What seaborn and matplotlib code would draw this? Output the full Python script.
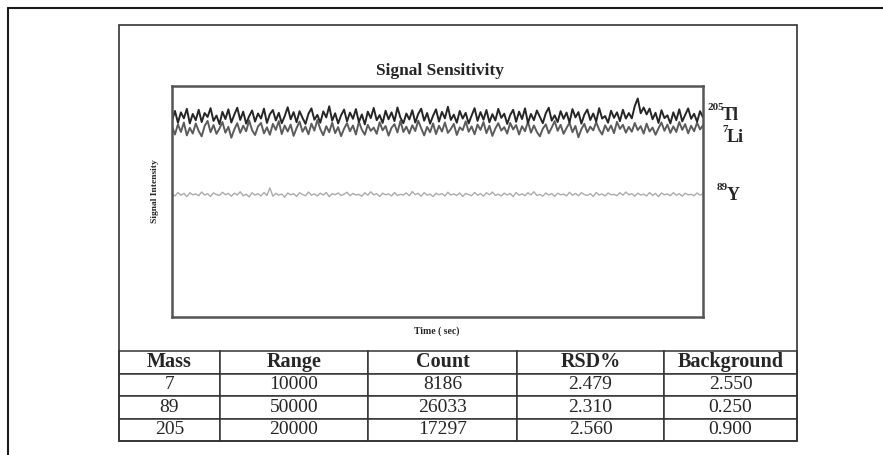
import matplotlib
matplotlib.use("Agg")
import matplotlib.pyplot as plt
from matplotlib.patches import Rectangle
from matplotlib.lines import Line2D
import seaborn as sns
import numpy as np

# signal traces (arbitrary intensity units, 0-100)
tl_signal = [
    85.0, 89.2, 84.1, 88.6, 86.0, 90.1, 83.8, 87.9, 85.2, 89.7,
    84.4, 88.3, 86.6, 90.4, 84.9, 87.2, 83.5, 88.8, 85.7, 89.9,
    84.2, 87.6, 90.6, 85.3, 88.9, 83.7, 86.9, 89.4, 84.6, 88.1,
    85.9, 90.2, 84.0, 87.8, 89.6, 85.1, 88.4, 83.9, 87.0, 90.8,
    85.6, 88.7, 84.3, 89.1, 86.2, 83.6, 88.0, 90.3, 85.4, 87.5,
    84.1, 89.0, 86.4, 91.2, 85.0, 88.2, 83.8, 87.3, 89.8, 84.7,
    88.5, 85.8, 90.0, 84.4, 87.7, 83.4, 88.9, 86.1, 90.5, 85.2,
    87.4, 84.0, 89.3, 85.6, 88.6, 84.8, 90.7, 86.3, 83.9, 88.1,
    85.5, 89.5, 84.2, 87.9, 90.2, 85.0, 88.3, 83.7, 87.1, 89.9,
    84.6, 88.8, 86.0, 91.0, 85.3, 87.6, 84.1, 89.2, 85.9, 88.4,
    83.8, 87.2, 90.4, 84.9, 88.7, 85.4, 89.6, 84.3, 87.8, 85.1,
    90.1, 86.2, 88.0, 83.6, 87.4, 89.7, 84.5, 88.9, 85.7, 90.3,
    84.0, 87.9, 85.2, 89.4, 86.6, 83.9, 88.2, 90.6, 85.0, 87.3,
    84.4, 89.1, 85.8, 88.5, 84.2, 90.0, 86.4, 88.7, 83.7, 87.6,
    89.8, 85.3, 88.1, 84.6, 90.4, 85.9, 87.0, 84.1, 89.3, 86.2,
    88.6, 84.8, 89.7, 85.9, 88.3, 86.0, 91.3, 94.6, 88.2, 90.7,
    87.7, 90.2, 85.6, 88.4, 84.0, 89.5, 86.1, 87.3, 83.8, 88.6,
    85.2, 89.9, 84.7, 87.5, 90.3, 85.8, 88.0, 84.5, 89.1, 86.4,
]
li_signal = [
    82.6, 79.0, 83.4, 80.1, 84.2, 78.6, 81.9, 79.4, 83.8, 80.5,
    78.2, 82.7, 84.9, 80.0, 83.1, 79.3, 81.6, 84.4, 79.8, 82.3,
    77.6, 81.2, 83.9, 79.7, 82.8, 80.4, 85.1, 80.9, 78.8, 82.5,
    84.0, 79.5, 82.1, 78.9, 83.6, 81.0, 84.8, 79.2, 82.9, 80.3,
    83.3, 78.4, 81.8, 84.6, 80.2, 82.4, 79.1, 83.7, 80.7, 85.3,
    81.3, 78.7, 82.6, 80.0, 84.1, 79.6, 82.2, 78.3, 81.5, 83.9,
    80.4, 82.9, 79.0, 84.5, 81.1, 78.9, 83.2, 80.6, 82.0, 79.3,
    84.3, 80.8, 82.7, 78.5, 81.9, 83.5, 79.9, 84.9, 80.1, 82.4,
    79.4, 83.0, 80.5, 85.0, 81.7, 78.6, 82.3, 80.0, 83.8, 79.2,
    82.8, 80.3, 84.2, 79.7, 81.4, 83.6, 78.8, 82.1, 80.9, 84.7,
    80.2, 82.5, 79.1, 83.3, 81.0, 84.4, 79.6, 82.8, 78.4, 81.6,
    83.9, 80.7, 82.2, 79.4, 84.0, 81.2, 83.1, 79.0, 82.6, 80.4,
    84.6, 79.8, 82.9, 80.1, 78.2, 81.5, 83.4, 79.5, 82.0, 84.8,
    80.6, 83.2, 79.3, 81.8, 84.1, 80.0, 82.7, 77.8, 81.3, 83.6,
    79.9, 82.4, 80.8, 84.3, 81.1, 79.0, 83.0, 80.5, 82.9, 79.6,
    84.5, 81.4, 83.2, 79.8, 82.3, 80.2, 84.0, 80.9, 82.6, 79.4,
    83.7, 80.3, 82.0, 78.9, 81.7, 84.2, 80.6, 83.3, 79.7, 82.5,
    80.1, 84.4, 81.0, 83.5, 79.5, 82.8, 80.4, 84.1, 81.2, 83.0,
]
y_signal = [
    53.2, 52.4, 53.9, 52.7, 53.5, 52.1, 53.8, 52.9, 53.3, 52.5,
    54.1, 52.8, 53.4, 52.2, 53.7, 53.0, 52.6, 54.0, 52.9, 53.5,
    52.3, 53.6, 52.8, 54.2, 52.5, 53.1, 52.0, 53.8, 52.7, 53.4,
    52.4, 53.9, 52.6, 55.9, 52.3, 53.5, 52.8, 53.2, 51.9, 53.7,
    52.9, 53.4, 52.2, 53.8, 53.0, 52.5, 54.1, 52.7, 53.3, 52.4,
    53.6, 52.8, 53.9, 52.1, 53.4, 52.9, 53.7, 52.6, 53.2, 54.0,
    52.5, 53.5, 52.8, 53.1, 52.3, 53.8, 52.7, 54.2, 52.9, 53.4,
    52.2, 53.6, 52.9, 53.3, 52.4, 53.9, 52.6, 53.1, 52.8, 53.7,
    52.5, 54.3, 53.0, 53.5, 52.3, 53.8, 52.7, 53.2, 52.1, 53.6,
    52.9, 53.4, 52.4, 54.0, 52.8, 53.3, 52.6, 53.7, 52.2, 53.5,
    53.0, 52.5, 53.9, 52.7, 53.4, 52.3, 53.8, 52.9, 54.1, 52.6,
    53.2, 52.4, 53.6, 52.8, 53.5, 52.1, 53.9, 52.7, 53.3, 52.5,
    53.8, 52.9, 54.2, 52.6, 53.1, 52.3, 53.7, 52.8, 53.4, 52.2,
    53.6, 52.9, 53.2, 52.4, 54.0, 52.7, 53.5, 52.5, 53.8, 53.0,
    52.6, 53.4, 52.2, 53.9, 52.8, 53.3, 52.4, 53.7, 52.9, 53.1,
    52.5, 53.8, 52.7, 54.1, 52.9, 53.4, 52.3, 53.6, 52.8, 53.2,
    52.4, 53.9, 52.6, 53.5, 52.1, 53.7, 52.9, 53.3, 52.5, 53.8,
    52.7, 53.4, 52.3, 53.6, 52.9, 53.1, 52.5, 53.7, 52.8, 53.3,
]
time_steps = np.arange(len(tl_signal))

# summary table
table_cols = ["Mass", "Range", "Count", "RSD%", "Background"]
masses = ["7", "89", "205"]
ranges = ["10000", "50000", "20000"]
counts = ["8186", "26033", "17297"]
rsd = ["2.479", "2.310", "2.560"]
background = ["2.550", "0.250", "0.900"]

W, H = 883, 455

sns.set_style("white")
plt.rcParams["font.family"] = ["Liberation Serif", "DejaVu Serif"]

fig = plt.figure(figsize=(W / 100, H / 100), dpi=100)


def fx(x):
    return x / W


def fy(y):
    return 1 - y / H


# outer page border (only top/left visible) and inner frame
fig.add_artist(Line2D([fx(8), fx(8)], [fy(8), fy(470)], color="#1a1a1a", lw=1.5))
fig.add_artist(Line2D([fx(8), fx(900)], [fy(8), fy(8)], color="#1a1a1a", lw=1.5))
fig.add_artist(Rectangle((fx(119), fy(441)), fx(797) - fx(119), fy(25) - fy(441),
                         fill=False, edgecolor="#333333", lw=1.2))

# signal plot
ax = fig.add_axes([fx(172), fy(317), fx(703) - fx(172), fy(86) - fy(317)])
sns.lineplot(x=time_steps, y=y_signal, ax=ax, color="#ababab", lw=1.0)
sns.lineplot(x=time_steps, y=li_signal, ax=ax, color="#5c5c5c", lw=1.4)
sns.lineplot(x=time_steps, y=tl_signal, ax=ax, color="#262626", lw=1.4)
ax.set_xlim(0, len(tl_signal) - 1)
ax.set_ylim(0, 100)
ax.set_xticks([])
ax.set_yticks([])
ax.set_xlabel("")
ax.set_ylabel("")
for sp in ax.spines.values():
    sp.set_visible(True)
    sp.set_color("#555555")
    sp.set_linewidth(1.8)

fig.text(fx(440), fy(71), "Signal Sensitivity", ha="center", va="center",
         fontsize=12.5, fontweight="bold")
fig.text(fx(437), fy(331), "Time ( sec)", ha="center", va="center",
         fontsize=7, fontweight="bold")
fig.text(fx(155), fy(191), "Signal Intensity", ha="center", va="center",
         rotation=90, fontsize=6.8, fontweight="bold")

# isotope labels
labels = [("205", "Tl", 708, 722, 120), ("7", "Li", 722, 727, 142), ("89", "Y", 717, 727, 200)]
for sup, sym, xs, xm, base in labels:
    fig.text(fx(xs), fy(base - 10), sup, ha="left", va="baseline",
             fontsize=8, fontweight="bold")
    fig.text(fx(xm), fy(base), sym, ha="left", va="baseline",
             fontsize=13, fontweight="bold")

# table
col_px = [101, 148, 149, 147, 133]
ax_tab = fig.add_axes([fx(119), fy(441), fx(797) - fx(119), fy(351) - fy(441)])
ax_tab.axis("off")
cells = [list(r) for r in zip(masses, ranges, counts, rsd, background)]
tbl = ax_tab.table(cellText=cells, colLabels=table_cols,
                   colWidths=[w / sum(col_px) for w in col_px],
                   cellLoc="center", bbox=[0, 0, 1, 1])
tbl.auto_set_font_size(False)
for (r, c), cell in tbl.get_celld().items():
    cell.set_edgecolor("#333333")
    cell.set_linewidth(1.1)
    if r == 0:
        cell.get_text().set_fontsize(14.5)
        cell.get_text().set_fontweight("bold")
    else:
        cell.get_text().set_fontsize(14)

fig.savefig("out.png", dpi=100)
